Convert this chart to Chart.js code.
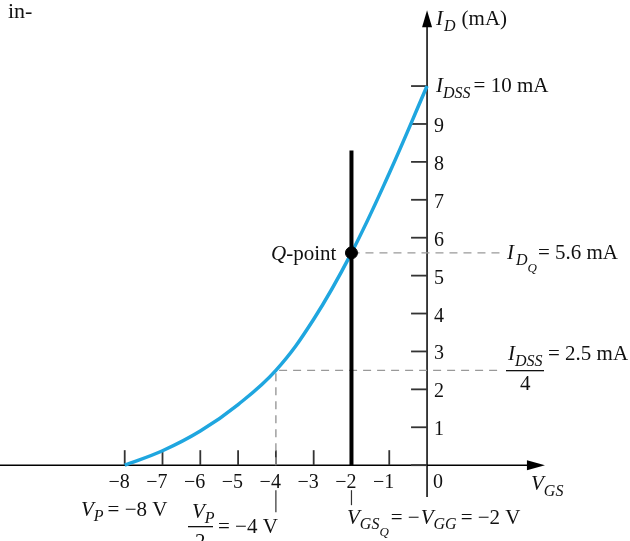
<!DOCTYPE html>
<html>
<head>
<meta charset="utf-8">
<script src="https://cdn.jsdelivr.net/npm/chart.js@4"></script>
<style>
  body { margin: 0; background: #fff; }
  canvas { display: block; }
</style>
</head>
<body>
<canvas id="myChart" width="630" height="541"></canvas>
<script>
// transfer curve
const vgsValues = [-8, -7, -6, -5, -4, -3, -2, -1, 0];
const idValues = [0, 0.38, 0.9, 1.6, 2.5, 3.85, 5.6, 7.7, 10];
const xTicks = [-8, -7, -6, -5, -4, -3, -2, -1];
const xTickLabels = ["8", "7", "6", "5", "4", "3", "2", "1"];
const yTicks = [0, 1, 2, 3, 4, 5, 6, 7, 8, 9, 10];
const yTickLabels = ["", "1", "2", "3", "4", "5", "6", "7", "8", "9", ""];
const qPoint = [-2, 5.6];
const quarterPoint = [-4, 2.5];
const biasLineTop = 8.3;
const dashEnd = 1.93;

const blue = "#1fa6df";
const serif = '"Liberation Serif", "Times New Roman", serif';

function rich(ctx, x, y, parts) {
  parts.forEach(function (p) {
    ctx.font = (p.i ? "italic " : "") + (p.s || 21) + "px " + serif;
    ctx.fillText(p.t, x, y + (p.dy || 0));
    x += ctx.measureText(p.t).width + (p.gap || 0);
  });
  return x;
}

const axesPlugin = {
  id: "axes",
  beforeDatasetsDraw(chart) {
    const ctx = chart.ctx;
    const xs = chart.scales.x, ys = chart.scales.y;
    const x0 = xs.getPixelForValue(0), y0 = ys.getPixelForValue(0);
    ctx.save();
    ctx.strokeStyle = "#000";
    ctx.fillStyle = "#000";
    ctx.lineWidth = 1.5;
    // x axis
    const xEnd = xs.getPixelForValue(3.12);
    ctx.beginPath();
    ctx.moveTo(0, y0); ctx.lineTo(xEnd - 14, y0);
    ctx.stroke();
    ctx.beginPath();
    ctx.moveTo(xEnd, y0); ctx.lineTo(xEnd - 18, y0 - 5); ctx.lineTo(xEnd - 18, y0 + 5); ctx.closePath();
    ctx.fill();
    // y axis
    const yTop = ys.getPixelForValue(12.0);
    ctx.beginPath();
    ctx.moveTo(x0, ys.getPixelForValue(-0.84)); ctx.lineTo(x0, yTop + 14);
    ctx.stroke();
    ctx.beginPath();
    ctx.moveTo(x0, yTop); ctx.lineTo(x0 - 5, yTop + 17); ctx.lineTo(x0 + 5, yTop + 17); ctx.closePath();
    ctx.fill();

    ctx.strokeStyle = "#333";
    ctx.lineWidth = 1.8;
    xTicks.forEach(function (v) {
      const px = xs.getPixelForValue(v);
      ctx.beginPath(); ctx.moveTo(px, y0 - 15); ctx.lineTo(px, y0); ctx.stroke();
    });
    yTicks.forEach(function (v) {
      const py = ys.getPixelForValue(v);
      ctx.beginPath(); ctx.moveTo(x0 - 16, py); ctx.lineTo(x0, py); ctx.stroke();
    });
    // small marker ticks under -4 and -2
    ctx.lineWidth = 1.2;
    let px = xs.getPixelForValue(quarterPoint[0]);
    ctx.beginPath(); ctx.moveTo(px, y0 + 25); ctx.lineTo(px, y0 + 47); ctx.stroke();
    px = xs.getPixelForValue(qPoint[0]);
    ctx.beginPath(); ctx.moveTo(px, y0 + 25); ctx.lineTo(px, y0 + 40); ctx.stroke();
    ctx.restore();
  },
  afterDraw(chart) {
    const ctx = chart.ctx;
    const xs = chart.scales.x, ys = chart.scales.y;
    const x0 = xs.getPixelForValue(0), y0 = ys.getPixelForValue(0);
    ctx.save();
    ctx.fillStyle = "#111";
    ctx.textBaseline = "alphabetic";
    ctx.font = "20px " + serif;
    // x tick labels: digit under the tick, minus sign hanging left
    xTicks.forEach(function (v, i) {
      const px = xs.getPixelForValue(v);
      ctx.textAlign = "center";
      ctx.fillText(xTickLabels[i], px, y0 + 23);
      ctx.textAlign = "right";
      ctx.fillText("\u2212", px - 5, y0 + 23);
    });
    ctx.textAlign = "left";
    ctx.fillText("0", x0 + 6, y0 + 23);
    yTicks.forEach(function (v, i) {
      if (yTickLabels[i]) ctx.fillText(yTickLabels[i], x0 + 7, ys.getPixelForValue(v) + 8);
    });

    // top-left fragment
    ctx.font = "22px " + serif;
    ctx.fillText("in-", 8, 18);

    rich(ctx, 436, 25, [{t: "I", i: 1, gap: 1}, {t: "D", i: 1, s: 16, dy: 6, gap: 6}, {t: "(mA)"}]);
    rich(ctx, 436, 92, [{t: "I", i: 1}, {t: "DSS", i: 1, s: 16, dy: 6, gap: 3}, {t: "= 10 mA"}]);
    rich(ctx, 507, 259, [{t: "I", i: 1, gap: 2}, {t: "D", i: 1, s: 16, dy: 6}, {t: "Q", i: 1, s: 13, dy: 13, gap: 1}, {t: "= 5.6 mA"}]);

    // IDSS / 4
    rich(ctx, 508, 360, [{t: "I", i: 1}, {t: "DSS", i: 1, s: 16, dy: 6}]);
    ctx.fillRect(506, 370, 38, 1.3);
    ctx.font = "21px " + serif;
    ctx.fillText("4", 520, 390);
    rich(ctx, 548, 360, [{t: "= 2.5 mA"}]);

    rich(ctx, 271, 260, [{t: "Q", i: 1}, {t: "-point"}]);

    rich(ctx, 81, 516, [{t: "V", i: 1}, {t: "P", i: 1, s: 16, dy: 5, gap: 4}, {t: "= \u22128 V"}]);
    rich(ctx, 192, 518, [{t: "V", i: 1}, {t: "P", i: 1, s: 16, dy: 5}]);
    ctx.fillRect(188, 526, 25, 1.3);
    ctx.font = "21px " + serif;
    ctx.fillText("2", 195, 548);
    rich(ctx, 218, 533, [{t: "= \u22124 V"}]);

    rich(ctx, 347, 524, [{t: "V", i: 1}, {t: "GS", i: 1, s: 16, dy: 5}, {t: "Q", i: 1, s: 13, dy: 12, gap: 2},
      {t: "= \u2212", gap: 1}, {t: "V", i: 1}, {t: "GG", i: 1, s: 16, dy: 5, gap: 4}, {t: "= \u22122 V"}]);
    rich(ctx, 531, 490, [{t: "V", i: 1}, {t: "GS", i: 1, s: 16, dy: 6}]);
    ctx.restore();
  }
};

new Chart("myChart", {
  type: "scatter",
  data: {
    datasets: [
      {
        data: vgsValues.map(function (v, i) { return {x: v, y: idValues[i]}; }),
        showLine: true,
        borderColor: blue,
        borderWidth: 3.5,
        pointRadius: 0,
        tension: 0.4,
        order: 2
      },
      {
        data: [{x: qPoint[0], y: 0}, {x: qPoint[0], y: biasLineTop}],
        showLine: true,
        borderColor: "#000",
        borderWidth: 4,
        pointRadius: 0,
        order: 1
      },
      {
        data: [{x: qPoint[0], y: qPoint[1]}, {x: dashEnd, y: qPoint[1]}],
        showLine: true,
        borderColor: "#999",
        borderWidth: 1.4,
        borderDash: [8, 6],
        pointRadius: 0,
        order: 3
      },
      {
        data: [{x: quarterPoint[0], y: 0}, {x: quarterPoint[0], y: quarterPoint[1]}, {x: dashEnd, y: quarterPoint[1]}],
        showLine: true,
        borderColor: "#999",
        borderWidth: 1.4,
        borderDash: [8, 6],
        pointRadius: 0,
        order: 3
      },
      {
        data: [{x: qPoint[0], y: qPoint[1]}],
        pointRadius: 6,
        pointBackgroundColor: "#000",
        pointBorderColor: "#000",
        order: 0
      }
    ]
  },
  options: {
    responsive: false,
    animation: false,
    layout: { padding: 0, autoPadding: false },
    plugins: { legend: { display: false }, tooltip: { enabled: false } },
    scales: {
      x: { type: "linear", min: -11.3, max: 5.37, display: false },
      y: { type: "linear", min: -2.0, max: 12.27, display: false }
    }
  },
  plugins: [axesPlugin]
});
</script>
</body>
</html>
